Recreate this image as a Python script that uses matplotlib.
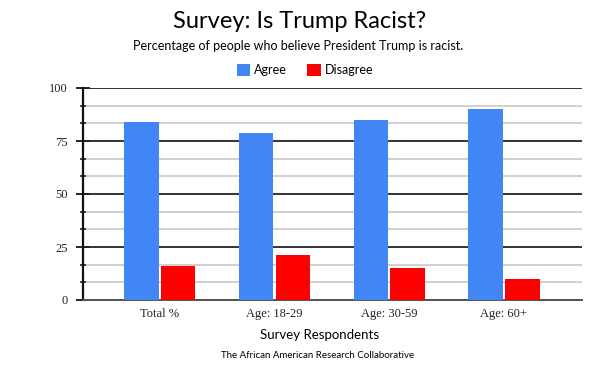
import numpy as np
import matplotlib.pyplot as plt
from matplotlib.ticker import MultipleLocator

# Data
categories = ['Total %', 'Age: 18-29', 'Age: 30-59', 'Age: 60+']
agree = [84, 79, 85, 90]
disagree = [16, 21, 15, 10]
y_ticks = [0, 25, 50, 75, 100]

sans = ['Lato', 'DejaVu Sans']
serif = ['Liberation Serif', 'DejaVu Serif']

fig = plt.figure(figsize=(6, 3.71), dpi=100)
ax = fig.add_axes([83 / 600, 1 - 300 / 371, 499 / 600, 212 / 371])

x = np.arange(len(categories))
w = 0.3
b1 = ax.bar(x - w / 2 - 0.01, agree, w, color='#4285F4', label='Agree', zorder=3)
b2 = ax.bar(x + w / 2 + 0.01, disagree, w, color='#FF0000', label='Disagree', zorder=3)

ax.set_xlim(-0.67, 3.68)
ax.set_ylim(0, 100)
ax.set_yticks(y_ticks)
ax.yaxis.set_minor_locator(MultipleLocator(100 / 12))
ax.set_xticks(x)
ax.set_xticklabels(categories, fontfamily=serif, fontsize=9, color='#222222')
ax.set_yticklabels([str(v) for v in y_ticks], fontfamily=serif, fontsize=9, color='#222222')

ax.grid(axis='y', which='major', color='#333333', lw=1.4, zorder=1)
ax.grid(axis='y', which='minor', color='#d0d0d0', lw=1.4, zorder=1)
ax.tick_params(axis='x', length=0, pad=6)
ax.tick_params(axis='y', which='major', direction='inout', length=10, width=1.4, color='#222222', pad=6)
ax.tick_params(axis='y', which='minor', direction='inout', length=5, width=1.2, color='#222222')

for s in ['top', 'right']:
    ax.spines[s].set_visible(False)
ax.spines['left'].set_color('#111111')
ax.spines['left'].set_linewidth(1.6)
ax.spines['bottom'].set_color('#555555')
ax.spines['bottom'].set_linewidth(1.4)

fig.text(0.5, 1 - 22 / 371, 'Survey: Is Trump Racist?', ha='center', va='center',
         fontsize=17, fontfamily=sans)
fig.text(0.497, 1 - 46 / 371, 'Percentage of people who believe President Trump is racist.',
         ha='center', va='center', fontsize=9, fontfamily=sans)
fig.legend(handles=[b1, b2], loc='center', bbox_to_anchor=(0.508, 1 - 70 / 371), ncol=2,
           frameon=False, prop={'family': sans, 'size': 9}, handlelength=1.1,
           handleheight=1.1, handletextpad=0.3, columnspacing=1.6)
fig.text(0.532, 1 - 335 / 371, 'Survey Respondents', ha='center', va='center',
         fontsize=9.5, fontfamily=sans)
fig.text(0.53, 1 - 355 / 371, 'The African American Research Collaborative', ha='center',
         va='center', fontsize=7, fontfamily=sans)

fig.savefig('out.png', dpi=100)
